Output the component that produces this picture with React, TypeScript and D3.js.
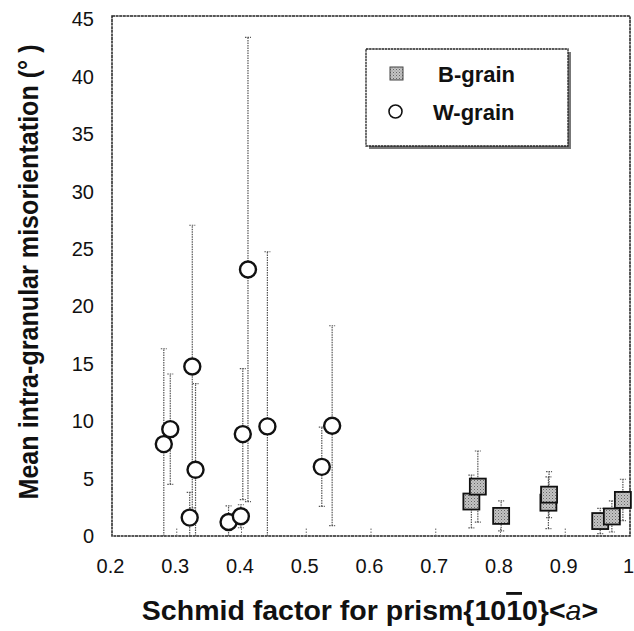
import React from "react";
import * as d3 from "d3";

const wX = [0.28, 0.29, 0.32, 0.324, 0.329, 0.38, 0.399, 0.402, 0.41, 0.44, 0.524, 0.54];
const wY = [8.0, 9.3, 1.6, 14.75, 5.76, 1.22, 1.72, 8.87, 23.2, 9.54, 6.02, 9.6];
const wErr = [8.3, 4.8, 2.2, 12.3, 7.5, 1.4, 1.0, 5.7, 20.2, 15.2, 3.45, 8.7];

const bX = [0.755, 0.765, 0.801, 0.874, 0.875, 0.954, 0.972, 0.989];
const bY = [3.0, 4.3, 1.75, 2.9, 3.6, 1.3, 1.7, 3.14];
const bErr = [2.3, 3.1, 1.3, 2.25, 2.0, 1.1, 1.35, 1.8];

const xTicks = [0.2, 0.3, 0.4, 0.5, 0.6, 0.7, 0.8, 0.9, 1];
const yTicks = [0, 5, 10, 15, 20, 25, 30, 35, 40, 45];
const seriesNames = ["B-grain", "W-grain"];

const W = 634;
const H = 631;
const L = 112, R = 630, T = 19, B = 536;

export default function App() {
  const x = d3.scaleLinear().domain([0.2, 1]).range([L, R]);
  const y = d3.scaleLinear().domain([0, 45]).range([B, T]);
  const font = "'Liberation Sans', Arial, sans-serif";

  const errBar = (cx: number, cy: number, e: number, key: string) => {
    const lo = Math.max(0, cy - e);
    const hi = cy + e;
    const px = x(cx);
    return (
      <g key={key} stroke="#555" strokeWidth={1.2} strokeDasharray="1.5,1">
        <line x1={px} x2={px} y1={y(lo)} y2={y(hi)} />
        <line x1={px - 3} x2={px + 3} y1={y(hi)} y2={y(hi)} />
        {cy - e > 0 && <line x1={px - 3} x2={px + 3} y1={y(lo)} y2={y(lo)} />}
      </g>
    );
  };

  return (
    <svg width={W} height={H} style={{ position: "absolute", left: 0, top: 0, background: "#fff" }} fontFamily={font}>
      <defs>
        <pattern id="stip" width="3" height="3" patternUnits="userSpaceOnUse">
          <rect width="3" height="3" fill="#c4c4c4" />
          <rect width="1" height="1" fill="#666" />
          <rect x="1.5" y="1.5" width="1" height="1" fill="#888" />
        </pattern>
      </defs>
      {/* frame */}
      <rect x={L} y={16} width={R - L} height={B - 16} fill="none" stroke="#222" strokeWidth={1.5} strokeDasharray="3,0.6" />
      {/* x ticks inside */}
      {xTicks.slice(1, -1).map((t) => (
        <line key={"xt" + t} x1={x(t)} x2={x(t)} y1={B} y2={B - 9} stroke="#666" strokeWidth={1} strokeDasharray="1.5,1.5" />
      ))}
      {/* y tick labels */}
      {yTicks.map((t) => (
        <text key={"yl" + t} x={94} y={y(t)} dy="0.36em" textAnchor="end" fontSize={20} fill="#111">
          {t}
        </text>
      ))}
      {/* x tick labels */}
      {xTicks.map((t) => (
        <text key={"xl" + t} x={x(t) - 1.5} y={566} dy="0.36em" textAnchor="middle" fontSize={20} fill="#111">
          {d3.format("")(t)}
        </text>
      ))}
      {/* axis titles */}
      <text transform={`translate(38,272) rotate(-90)`} textAnchor="middle" fontSize={27} fontWeight="bold" fill="#111" textLength={455} lengthAdjust="spacingAndGlyphs">
        Mean intra-granular misorientation (° )
      </text>
      <text x={370} y={620} textAnchor="middle" fontSize={28.5} fontWeight="bold" fill="#111">
        Schmid factor for prism{"{"}10<tspan style={{ textDecoration: "overline" }}>1</tspan>0{"}"}&lt;<tspan fontStyle="italic" fontWeight="normal">a</tspan>&gt;
      </text>
      {/* error bars */}
      {wX.map((v, i) => errBar(v, wY[i], wErr[i], "we" + i))}
      {bX.map((v, i) => errBar(v, bY[i], bErr[i], "be" + i))}
      {/* B-grain squares */}
      {bX.map((v, i) => (
        <rect key={"bs" + i} x={x(v) - 8} y={y(bY[i]) - 8} width={16} height={16} fill="url(#stip)" stroke="#111" strokeWidth={1.8} />
      ))}
      {/* W-grain circles */}
      {wX.map((v, i) => (
        <circle key={"wc" + i} cx={x(v)} cy={y(wY[i])} r={8} fill="#fff" stroke="#111" strokeWidth={2.4} />
      ))}
      {/* legend */}
      <rect x={369} y={52} width={202} height={97} fill="#777" />
      <rect x={366} y={49} width={202} height={97} fill="#fff" stroke="#222" strokeWidth={1.3} strokeDasharray="2.5,0.6" />
      <rect x={390} y={67} width={13} height={13} fill="url(#stip)" stroke="#444" strokeWidth={1} />
      <text x={438} y={74} dy="0.36em" fontSize={22} fontWeight="bold" fill="#111">{seriesNames[0]}</text>
      <circle cx={395.5} cy={111.5} r={6.5} fill="#fff" stroke="#111" strokeWidth={1.6} />
      <text x={433} y={112} dy="0.36em" fontSize={22} fontWeight="bold" fill="#111">{seriesNames[1]}</text>
    </svg>
  );
}
